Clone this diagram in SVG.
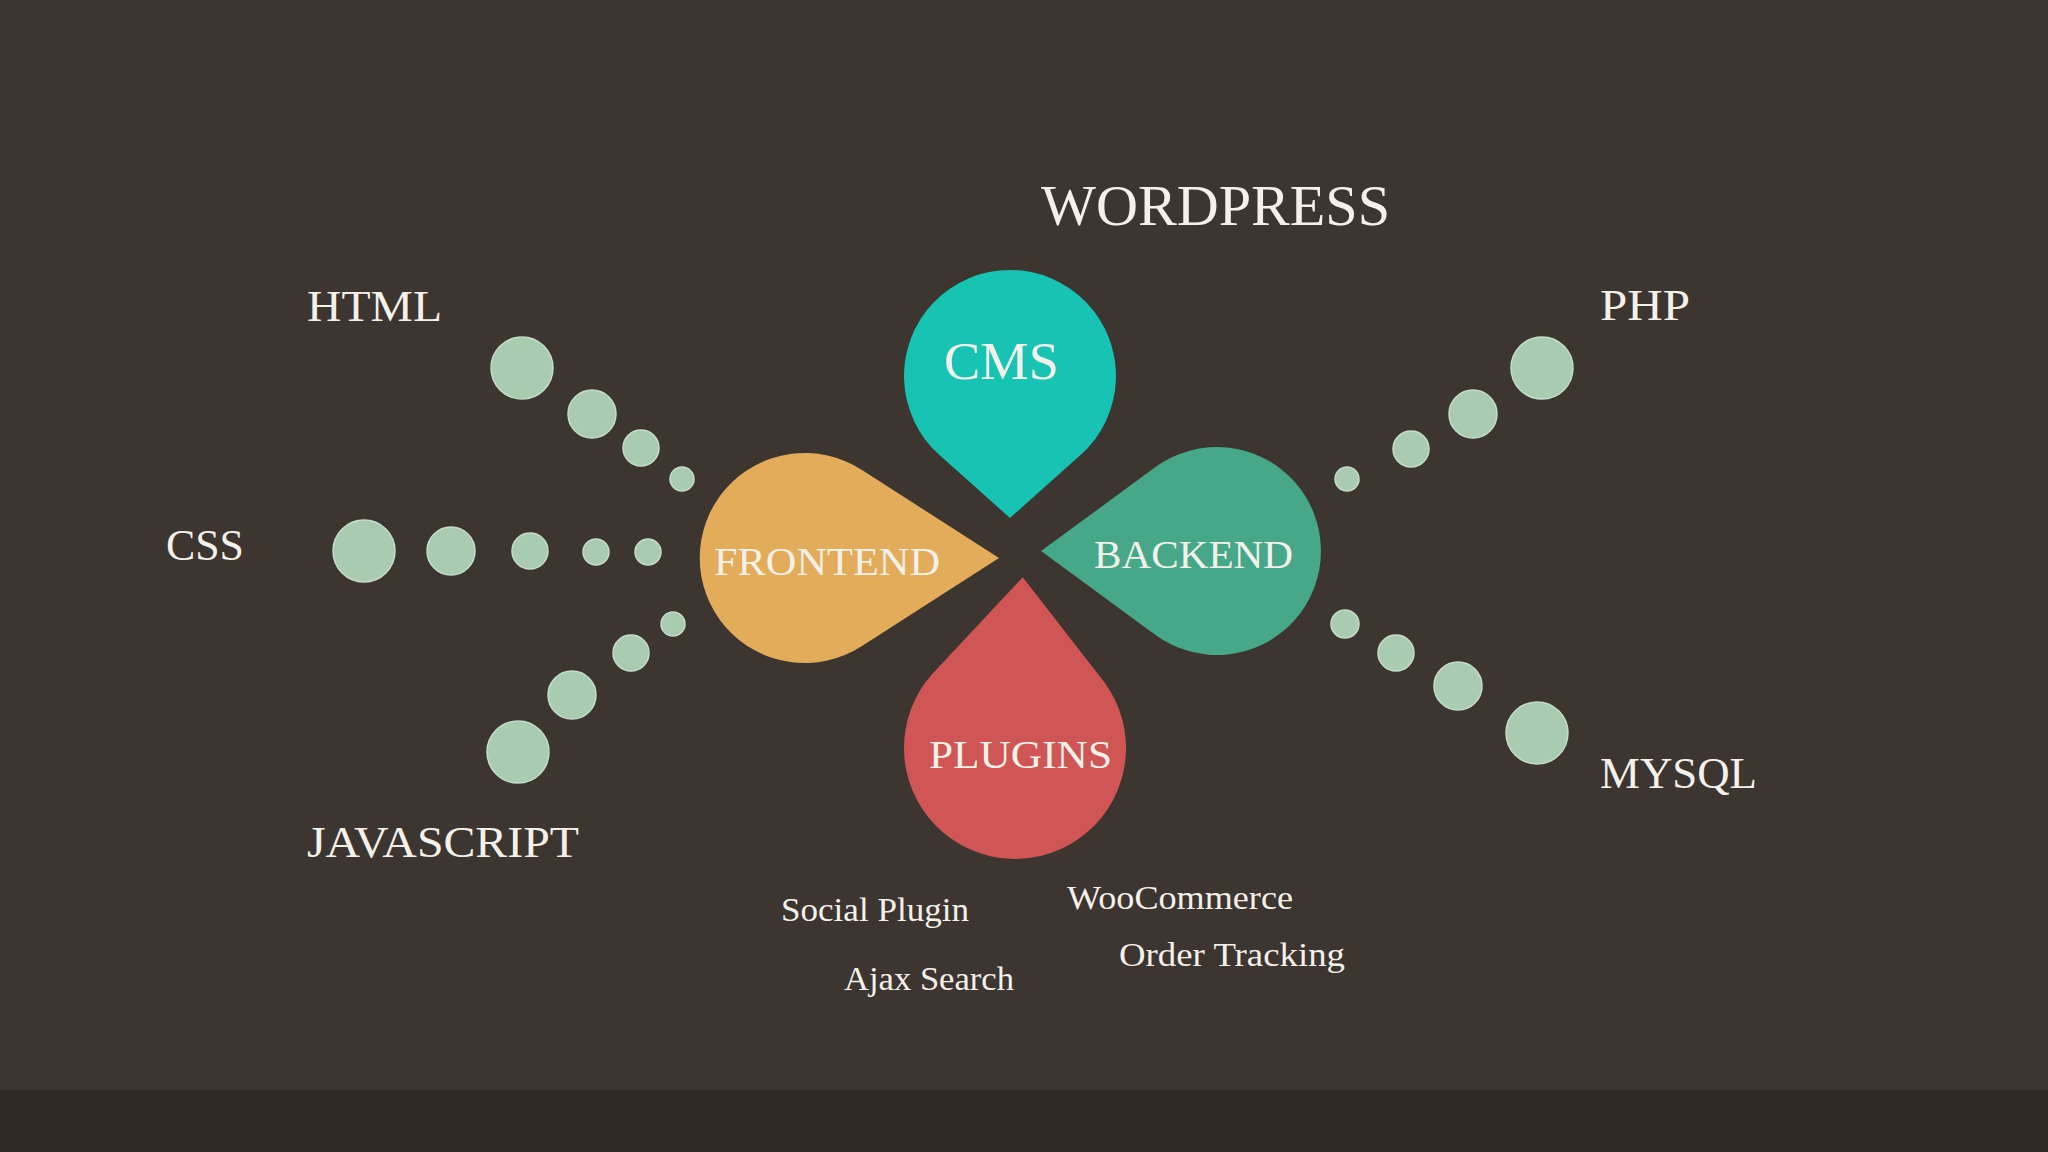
<svg xmlns="http://www.w3.org/2000/svg" width="2048" height="1152" viewBox="0 0 2048 1152">
<style>
.t{font-family:"Liberation Serif","DejaVu Serif",serif;fill:#f4f1ea}
.d{fill:#a9cbb0;stroke:#c4dcc8;stroke-width:1.5}
</style>
<rect width="2048" height="1152" fill="#3c3530"/>
<rect y="1090" width="2048" height="62" fill="#2e2925"/>
<g id="cms"><path transform="translate(1010,376) rotate(180)" d="M0,-142 L70.5,-79.1 A106 106 0 1 1 -70.5,-79.1 Z" fill="#17c3b2"/><text class="t" x="944" y="379" font-size="52" textLength="115" lengthAdjust="spacingAndGlyphs">CMS</text></g>
<g id="frontend"><path transform="translate(805,558) rotate(90)" d="M0,-194 L88,-57 A105 105 0 1 1 -88,-57 Z" fill="#e3ac5a"/><text class="t" x="714" y="575" font-size="39" textLength="226" lengthAdjust="spacingAndGlyphs">FRONTEND</text></g>
<g id="backend"><path transform="translate(1217,551) rotate(-90)" d="M0,-176 L83.9,-61.5 A104 104 0 1 1 -83.9,-61.5 Z" fill="#46a889"/><text class="t" x="1094" y="568" font-size="39" textLength="199" lengthAdjust="spacingAndGlyphs">BACKEND</text></g>
<g id="plugins"><path transform="translate(1015,748) rotate(2.6)" d="M0,-171 L86.5,-69.6 A111 111 0 1 1 -86.5,-69.6 Z" fill="#d05555"/><text class="t" x="929" y="768" font-size="39" textLength="183" lengthAdjust="spacingAndGlyphs">PLUGINS</text></g>
<g id="dots">
<circle class="d" cx="522" cy="368" r="31"/><circle class="d" cx="592" cy="414" r="24"/><circle class="d" cx="641" cy="448" r="18"/><circle class="d" cx="682" cy="479" r="12"/>
<circle class="d" cx="364" cy="551" r="31"/><circle class="d" cx="451" cy="551" r="24"/><circle class="d" cx="530" cy="551" r="18"/><circle class="d" cx="596" cy="552" r="13"/><circle class="d" cx="648" cy="552" r="13"/>
<circle class="d" cx="518" cy="752" r="31"/><circle class="d" cx="572" cy="695" r="24"/><circle class="d" cx="631" cy="653" r="18"/><circle class="d" cx="673" cy="624" r="12"/>
<circle class="d" cx="1542" cy="368" r="31"/><circle class="d" cx="1473" cy="414" r="24"/><circle class="d" cx="1411" cy="449" r="18"/><circle class="d" cx="1347" cy="479" r="12"/>
<circle class="d" cx="1537" cy="733" r="31"/><circle class="d" cx="1458" cy="686" r="24"/><circle class="d" cx="1396" cy="653" r="18"/><circle class="d" cx="1345" cy="624" r="14"/>
</g>
<g id="labels">
<text class="t" x="1041" y="225" font-size="57" textLength="349" lengthAdjust="spacingAndGlyphs">WORDPRESS</text>
<text class="t" x="307" y="321" font-size="44" textLength="135" lengthAdjust="spacingAndGlyphs">HTML</text>
<text class="t" x="1600" y="320" font-size="44" textLength="90" lengthAdjust="spacingAndGlyphs">PHP</text>
<text class="t" x="166" y="560" font-size="44" textLength="78" lengthAdjust="spacingAndGlyphs">CSS</text>
<text class="t" x="307" y="857" font-size="44" textLength="272" lengthAdjust="spacingAndGlyphs">JAVASCRIPT</text>
<text class="t" x="1600" y="788" font-size="44" textLength="157" lengthAdjust="spacingAndGlyphs">MYSQL</text>
<text class="t" x="781" y="921" font-size="34" textLength="188" lengthAdjust="spacingAndGlyphs">Social Plugin</text>
<text class="t" x="844" y="990" font-size="34" textLength="170" lengthAdjust="spacingAndGlyphs">Ajax Search</text>
<text class="t" x="1067" y="909" font-size="34" textLength="226" lengthAdjust="spacingAndGlyphs">WooCommerce</text>
<text class="t" x="1119" y="966" font-size="34" textLength="226" lengthAdjust="spacingAndGlyphs">Order Tracking</text>
</g>
</svg>
